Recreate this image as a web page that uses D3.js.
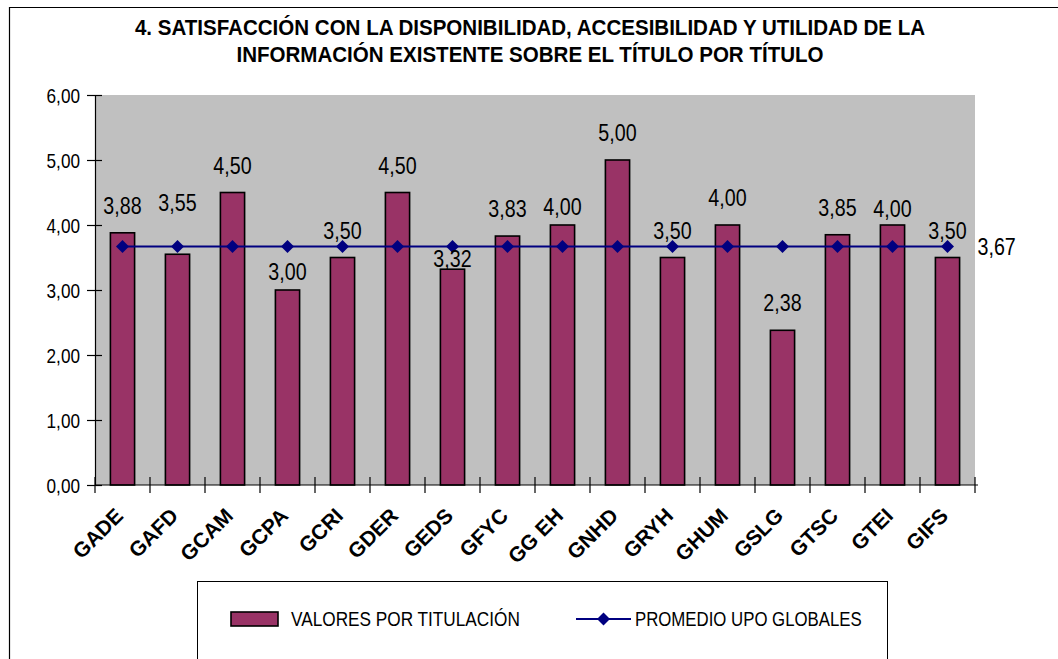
<!DOCTYPE html>
<html>
<head>
<meta charset="utf-8">
<script src="https://cdn.jsdelivr.net/npm/d3@7"></script>
<style>
  html, body { margin: 0; padding: 0; background: #fff; }
  svg { display: block; }
</style>
</head>
<body>
<svg id="chart" width="1058" height="659"></svg>
<script>
// ---- data ----
const categories = ["GADE","GAFD","GCAM","GCPA","GCRI","GDER","GEDS","GFYC","GG EH","GNHD","GRYH","GHUM","GSLG","GTSC","GTEI","GIFS"];
const valores = [3.88, 3.55, 4.50, 3.00, 3.50, 4.50, 3.32, 3.83, 4.00, 5.00, 3.50, 4.00, 2.38, 3.85, 4.00, 3.50];
const promedio = [3.67, 3.67, 3.67, 3.67, 3.67, 3.67, 3.67, 3.67, 3.67, 3.67, 3.67, 3.67, 3.67, 3.67, 3.67, 3.67];
const yTicks = [0, 1, 2, 3, 4, 5, 6];
const titleLines = ["4. SATISFACCIÓN CON LA DISPONIBILIDAD, ACCESIBILIDAD Y UTILIDAD DE LA",
                    "INFORMACIÓN EXISTENTE SOBRE EL TÍTULO POR TÍTULO"];
const seriesNames = ["VALORES POR TITULACIÓN", "PROMEDIO UPO GLOBALES"];

// manual data-label nudges (px) as placed in the original chart
const labelNudge = [0, -24, 0, 9, 0, 0, 17, 0, 9, 0, 0, 0, 0, 0, 11, 0];

// ---- setup ----
const SANS = "'Liberation Sans', Arial, sans-serif";
const NARROW_SCALE = 0.82; // emulate Arial Narrow
const locale = d3.formatLocale({decimal: ",", thousands: ".", grouping: [3], currency: ["", "€"]});
const fmt = locale.format(".2f");

const svg = d3.select("#chart");
const plot = {left: 95, right: 975, top: 95, bottom: 485};

const x = d3.scaleBand().domain(categories).range([plot.left, plot.right])
  .paddingInner(0.56).paddingOuter(0.28);
const y = d3.scaleLinear().domain([0, 6]).range([plot.bottom, plot.top]);
const cx = c => x(c) + x.bandwidth() / 2;

function narrowText(g, tx, ty, str, size, anchor, weight, sx) {
  return g.append("text")
    .attr("transform", `translate(${tx},${ty}) scale(${sx || NARROW_SCALE},1)`)
    .attr("text-anchor", anchor || "start")
    .attr("font-family", SANS).attr("font-size", size)
    .attr("font-weight", weight || "normal").attr("fill", "#000").text(str);
}

// outer border (left + top visible)
svg.append("path").attr("d", "M9.5,659 L9.5,7.5 L1058,7.5")
  .attr("fill", "none").attr("stroke", "#000").attr("stroke-width", 1.2);

// title, fitted to the reference width
const title = svg.append("g");
const tl = titleLines.map((t, i) => title.append("text").attr("x", 0).attr("y", 0)
  .attr("text-anchor", "middle").attr("font-family", SANS)
  .attr("font-weight", "bold").attr("font-size", 22).attr("fill", "#000").text(t));
const w0 = tl[0].node().getComputedTextLength();
const tScale = 791 / w0;
tl.forEach((t, i) => t.attr("transform", `translate(530,${35 + i * 27}) scale(${tScale},1)`));

// plot background
svg.append("rect").attr("x", plot.left).attr("y", plot.top)
  .attr("width", plot.right - plot.left).attr("height", plot.bottom - plot.top)
  .attr("fill", "#C0C0C0");

// bars
svg.append("g").selectAll("rect").data(categories).join("rect")
  .attr("x", c => x(c))
  .attr("y", (c, i) => y(valores[i]))
  .attr("width", x.bandwidth())
  .attr("height", (c, i) => y(0) - y(valores[i]))
  .attr("fill", "#993366").attr("stroke", "#000").attr("stroke-width", 1.6);

// y axis
const yAxis = d3.axisLeft(y).tickValues(yTicks).tickFormat(fmt).tickSize(0).tickPadding(16);
const gy = svg.append("g").attr("transform", `translate(${plot.left},0)`).call(yAxis);
gy.select(".domain").attr("stroke", "#000").attr("stroke-width", 1.2);
gy.selectAll(".tick line").attr("x1", -8).attr("x2", 7).attr("stroke", "#000").attr("stroke-width", 1.2);
gy.selectAll(".tick text").remove();
gy.selectAll(".tick").each(function(d) {
  narrowText(d3.select(this), -15, 7, fmt(d), 20, "end", "normal", 0.86);
});

// x axis
const xAxis = d3.axisBottom(x).tickSize(0).tickFormat("");
const gx = svg.append("g").attr("transform", `translate(0,${plot.bottom})`).call(xAxis);
gx.select(".domain").attr("stroke", "#000").attr("stroke-width", 1.2)
  .attr("d", `M${plot.left},0H${plot.right + 3}`);
gx.selectAll(".tick").remove();
const bounds = categories.map(c => x(c) - x.step() * x.paddingInner() / 2).concat([plot.right]);
gx.selectAll("line.sep").data(bounds).join("line").attr("class", "sep")
  .attr("x1", d => d).attr("x2", d => d).attr("y1", -8).attr("y2", 8)
  .attr("stroke", "#000").attr("stroke-width", 1.2);

// x labels rotated
svg.append("g").selectAll("text").data(categories).join("text")
  .attr("transform", c => `translate(${cx(c) + 2},${plot.bottom + 32}) rotate(-45)`)
  .attr("text-anchor", "end").attr("font-family", SANS).attr("font-weight", "bold")
  .attr("font-size", 21).attr("fill", "#000").text(c => c);

// average line
const line = d3.line().x((d, i) => cx(categories[i])).y(d => y(d));
svg.append("path").datum(promedio).attr("d", line)
  .attr("fill", "none").attr("stroke", "#000080").attr("stroke-width", 2);
const diamond = "M0,-6.5L6.5,0L0,6.5L-6.5,0Z";
svg.append("g").selectAll("path").data(promedio).join("path")
  .attr("transform", (d, i) => `translate(${cx(categories[i])},${y(d)})`)
  .attr("d", diamond).attr("fill", "#000080");

// bar data labels
const gl = svg.append("g");
valores.forEach((d, i) => narrowText(gl, cx(categories[i]), y(d) - 19 + labelNudge[i], fmt(d), 24, "middle"));

// line label at last point
const last = promedio.length - 1;
narrowText(svg, cx(categories[last]) + 30, y(promedio[last]) + 8.5, fmt(promedio[last]), 24, "start");

// legend
const lg = svg.append("g");
lg.append("rect").attr("x", 197.5).attr("y", 581.5).attr("width", 690).attr("height", 120)
  .attr("fill", "#fff").attr("stroke", "#000").attr("stroke-width", 1);
lg.append("rect").attr("x", 231).attr("y", 612).attr("width", 47).attr("height", 14)
  .attr("fill", "#993366").attr("stroke", "#000").attr("stroke-width", 1.6);
narrowText(lg, 291, 626, seriesNames[0], 21, "start");
lg.append("line").attr("x1", 576).attr("x2", 631).attr("y1", 619).attr("y2", 619)
  .attr("stroke", "#000080").attr("stroke-width", 2);
lg.append("path").attr("transform", "translate(603.5,619)").attr("d", diamond).attr("fill", "#000080");
narrowText(lg, 635, 626, seriesNames[1], 21, "start", "normal", 0.8);
</script>
</body>
</html>
